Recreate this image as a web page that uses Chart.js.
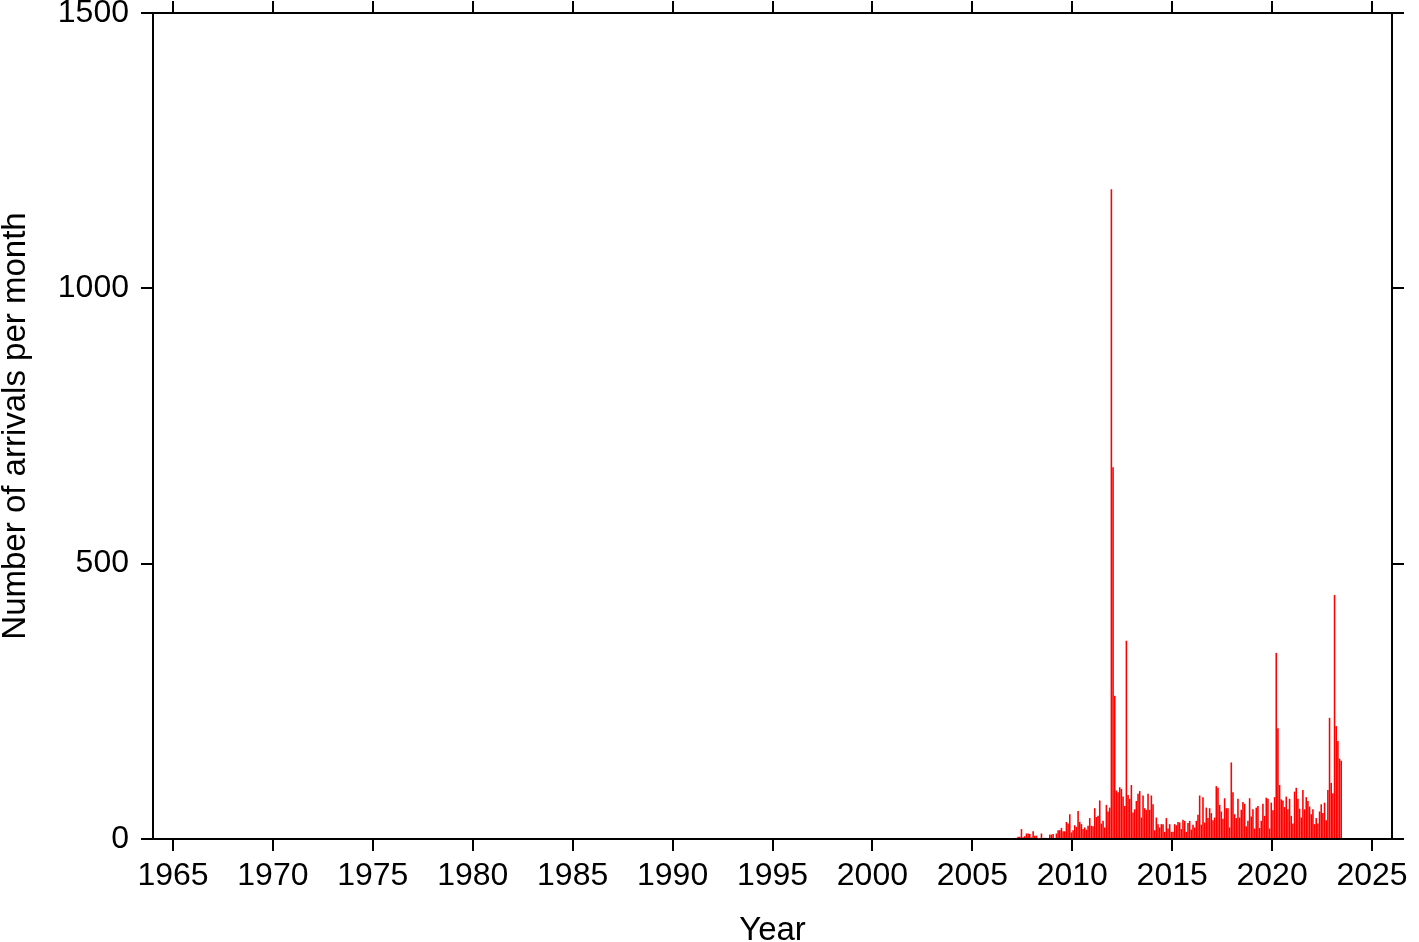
<!DOCTYPE html>
<html>
<head>
<meta charset="utf-8">
<script src="https://cdn.jsdelivr.net/npm/chart.js@4.4.1/dist/chart.umd.min.js"></script>
<style>
  html, body { margin: 0; padding: 0; background: #fff; }
  canvas { display: block; }
</style>
</head>
<body>
<canvas id="chartArrivals" width="1419" height="942"></canvas>
<script>
// ─── Datos: llegadas por mes, desde enero 2007 ───────────────────────────────
const startYear = 2007;
const arrivals = [
  0, 0, 2, 4, 4, 18, 3, 5, 10, 10, 9, 3,            // 2007
  14, 6, 6, 1, 0, 10, 2, 2, 2, 0, 8, 8,             // 2008
  9, 2, 10, 16, 16, 20, 14, 14, 31, 28, 45, 12,     // 2009
  16, 25, 22, 51, 31, 27, 18, 21, 17, 24, 38, 24,   // 2010
  23, 56, 40, 42, 70, 28, 33, 21, 62, 50, 57, 1180, // 2011
  675, 260, 88, 85, 94, 91, 77, 60, 360, 80, 73, 98, // 2012
  48, 54, 69, 82, 87, 39, 79, 56, 53, 82, 53, 79,   // 2013
  63, 16, 39, 27, 21, 27, 27, 13, 38, 19, 27, 13,   // 2014
  13, 27, 25, 31, 30, 18, 35, 33, 13, 29, 33, 17,   // 2015
  26, 21, 33, 44, 79, 26, 76, 30, 57, 38, 56, 47,   // 2016
  34, 39, 96, 93, 62, 50, 37, 74, 56, 56, 21, 139,  // 2017
  85, 45, 38, 73, 39, 53, 67, 64, 23, 33, 74, 41,   // 2018
  54, 19, 57, 60, 20, 33, 64, 42, 75, 73, 19, 66,   // 2019
  52, 76, 338, 201, 98, 72, 70, 58, 77, 54, 73, 42, // 2020
  28, 86, 93, 73, 55, 39, 89, 54, 76, 69, 59, 45,   // 2021
  54, 27, 38, 28, 50, 63, 47, 66, 34, 89, 220, 102, // 2022
  83, 443, 205, 178, 146, 142                        // 2023
];
const xTicks = [1965, 1970, 1975, 1980, 1985, 1990, 1995, 2000, 2005, 2010, 2015, 2020, 2025];
const yTicks = [0, 500, 1000, 1500];

// ─── Estilos comunes ─────────────────────────────────────────────────────────
const FONT = "'Liberation Sans', Helvetica, Arial, sans-serif";
const tickFont = { family: FONT, size: 32 };
const titleFont = { family: FONT, size: 33 };
const tickGrid = { drawOnChartArea: false, drawTicks: true, tickLength: 12, lineWidth: 2, color: '#000', offset: false };
const frame = { display: true, width: 2, color: '#000' };
const setTicks = list => s => { s.ticks = list.map(v => ({ value: v })); };
// tamaño fijo de cada eje, sin relleno extra por las etiquetas de los extremos
const fixSize = (w, h) => s => {
  if (w != null) s.width = w;
  if (h != null) s.height = h;
  s.paddingTop = 0; s.paddingBottom = 0; s.paddingLeft = 0; s.paddingRight = 0;
};

const points = arrivals.map((v, i) => ({ x: startYear + (i + 0.5) / 12, y: v }));

const ctx = document.getElementById('chartArrivals').getContext('2d');
new Chart(ctx, {
  type: 'bar',
  data: {
    datasets: [{
      label: 'Arrivals',
      data: points,
      xAxisID: 'x', yAxisID: 'y',
      backgroundColor: '#ff0000',
      borderWidth: 0,
      categoryPercentage: 1,
      barPercentage: 0.95,
    }],
  },
  options: {
    responsive: false, animation: false, devicePixelRatio: 1,
    layout: { padding: 0 },
    plugins: { legend: { display: false }, tooltip: { enabled: false } },
    scales: {
      x: {
        type: 'linear', position: 'bottom', min: 1964, max: 2026, offset: false,
        afterBuildTicks: setTicks(xTicks),
        afterFit: fixSize(null, 103),
        ticks: { color: '#000', font: tickFont, padding: 6, maxRotation: 0, autoSkip: false, callback: v => String(v) },
        grid: tickGrid, border: frame,
        title: { display: true, text: 'Year', color: '#000', font: titleFont, padding: { top: 0, bottom: -9 } },
      },
      xTop: {
        type: 'linear', position: 'top', min: 1964, max: 2026, offset: false,
        afterBuildTicks: setTicks(xTicks),
        afterFit: fixSize(null, 13),
        ticks: { display: false },
        grid: tickGrid, border: frame,
      },
      y: {
        type: 'linear', position: 'left', min: 0, max: 1500,
        afterBuildTicks: setTicks(yTicks),
        afterFit: fixSize(153, null),
        ticks: { color: '#000', font: tickFont, padding: 12, callback: v => String(v) },
        grid: tickGrid, border: frame,
        title: { display: true, text: 'Number of arrivals per month', color: '#000', font: titleFont, padding: { top: -4, bottom: 0 } },
      },
      yRight: {
        type: 'linear', position: 'right', min: 0, max: 1500,
        afterBuildTicks: setTicks(yTicks),
        afterFit: fixSize(27, null),
        ticks: { display: false },
        grid: tickGrid, border: frame,
      },
    },
  },
});
</script>
</body>
</html>
